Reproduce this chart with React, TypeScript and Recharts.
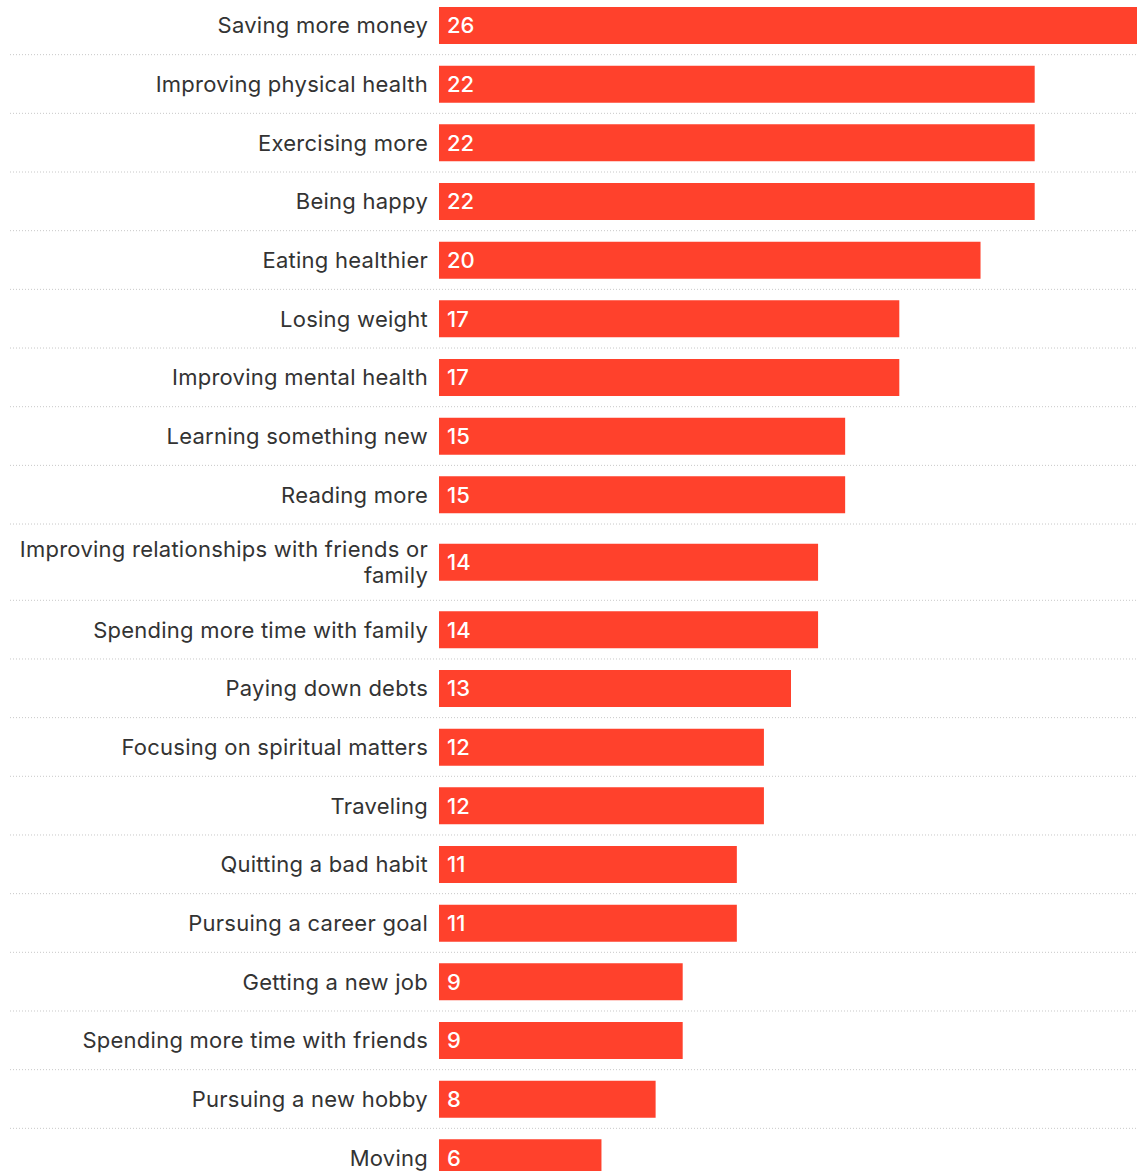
import React from "react";
import { BarChart, Bar, XAxis, YAxis, CartesianGrid, LabelList } from "recharts";

const categories = [
  "Saving more money",
  "Improving physical health",
  "Exercising more",
  "Being happy",
  "Eating healthier",
  "Losing weight",
  "Improving mental health",
  "Learning something new",
  "Reading more",
  "Improving relationships with friends or family",
  "Spending more time with family",
  "Paying down debts",
  "Focusing on spiritual matters",
  "Traveling",
  "Quitting a bad habit",
  "Pursuing a career goal",
  "Getting a new job",
  "Spending more time with friends",
  "Pursuing a new hobby",
  "Moving",
];

const values = [26, 22, 22, 22, 20, 17, 17, 15, 15, 14, 14, 13, 12, 12, 11, 11, 9, 9, 8, 6];

const FONT = "Inter, 'Noto Sans', sans-serif";
const FONT_SIZE = 22;
const LETTER_SPACING = 0.25;
const LABEL_MAX_WIDTH = 418;
const ROW_PX = 58.65;
const EXTRA_LINE = 0.3;

let ctx: CanvasRenderingContext2D | null = null;
function measure(t: string): number {
  if (!ctx) {
    const c = document.createElement("canvas");
    ctx = c.getContext("2d");
  }
  if (!ctx) return t.length * 11;
  ctx.font = `${FONT_SIZE}px Inter`;
  return ctx.measureText(t).width + t.length * LETTER_SPACING;
}

function wrap(label: string): string[] {
  const words = label.split(" ");
  const lines: string[] = [];
  let cur = "";
  for (const w of words) {
    const next = cur ? cur + " " + w : w;
    if (measure(next) > LABEL_MAX_WIDTH && cur) {
      lines.push(cur);
      cur = w;
    } else {
      cur = next;
    }
  }
  if (cur) lines.push(cur);
  return lines;
}

const wrapped = categories.map(wrap);
const weights = wrapped.map((l) => 1 + EXTRA_LINE * (l.length - 1));
const starts: number[] = [];
weights.reduce((acc, w, i) => {
  starts[i] = acc;
  return acc + w;
}, 0);
const total = weights.reduce((a, b) => a + b, 0);
const centers = weights.map((w, i) => starts[i] + w / 2);
const boundaries = weights.slice(0, -1).map((w, i) => starts[i] + w);

const data = categories.map((name, i) => ({ name, value: values[i], pos: centers[i] }));

const CategoryTick = (props: any) => {
  const { x, y, index } = props;
  const lines = wrapped[index] || [];
  const lh = 26;
  const first = -((lines.length - 1) * lh) / 2;
  return (
    <g>
      {lines.map((ln, k) => (
        <text
          key={k}
          x={x}
          y={y + first + k * lh}
          textAnchor="end"
          dominantBaseline="central"
          fontFamily={FONT}
          fontSize={FONT_SIZE}
          letterSpacing={LETTER_SPACING}
          fill="#333333"
        >
          {ln}
        </text>
      ))}
    </g>
  );
};

export default function App() {
  const chartH = Math.round(total * ROW_PX);
  return (
    <div
      style={{
        position: "absolute",
        left: 0,
        top: 0,
        width: 1137,
        height: 1171,
        overflow: "hidden",
        background: "#ffffff",
      }}
    >
      <div style={{ position: "relative", top: -4 }}>
        <BarChart
          width={1143}
          height={chartH}
          data={data}
          layout="vertical"
          margin={{ top: 0, right: 0, bottom: 0, left: 0 }}
        >
          <CartesianGrid
            vertical={false}
            horizontal
            x={10}
            width={1140}
            stroke="#c8c8c8"
            strokeDasharray="1 2"
            horizontalCoordinatesGenerator={(p: any) => {
              const sc = p?.yAxis?.scale;
              if (sc && typeof sc === "function") return boundaries.map((b) => sc(b));
              if (sc && typeof sc.map === "function") return boundaries.map((b) => sc.map(b));
              return boundaries.map((b) => (b / total) * chartH);
            }}
          />
          <XAxis type="number" domain={[0, 26]} hide />
          <YAxis
            type="number"
            dataKey="pos"
            domain={[0, total]}
            ticks={centers}
            interval={0}
            width={439}
            tickSize={0}
            tickMargin={11}
            axisLine={false}
            tickLine={false}
            tick={<CategoryTick />}
          />
          <Bar dataKey="value" fill="#FF412C" barSize={37} isAnimationActive={false}>
            <LabelList
              dataKey="value"
              position="insideLeft"
              offset={8}
              fill="#ffffff"
              fontFamily={FONT}
              fontSize={FONT_SIZE}
              fontWeight={500}
            />
          </Bar>
        </BarChart>
      </div>
    </div>
  );
}
